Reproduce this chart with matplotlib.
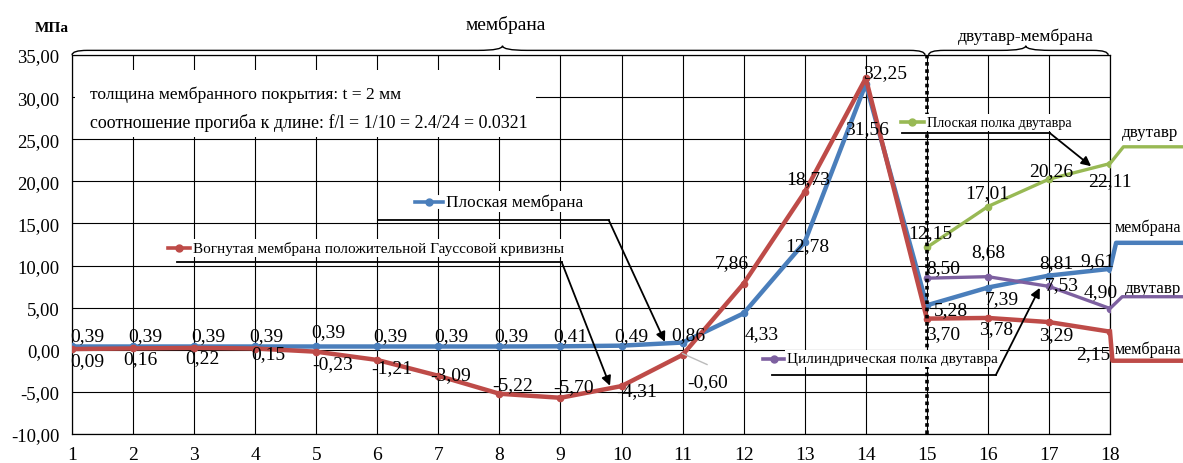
import matplotlib
matplotlib.use("Agg")
import matplotlib.pyplot as plt
from matplotlib.path import Path
from matplotlib.patches import PathPatch, Rectangle

plt.rcParams['font.family'] = ['Liberation Serif', 'DejaVu Serif']

# ---- data -------------------------------------------------------------
points = list(range(1, 19))
flat_membrane = [0.39, 0.39, 0.39, 0.39, 0.39, 0.39, 0.39, 0.39, 0.41, 0.49,
                 0.86, 4.33, 12.78, 31.56, 5.28, 7.39, 8.81, 9.61]
concave_membrane = [0.09, 0.16, 0.22, 0.15, -0.23, -1.21, -3.09, -5.22, -5.70,
                    -4.31, -0.60, 7.86, 18.73, 32.25, 3.70, 3.78, 3.29, 2.15]
beam_points = [15, 16, 17, 18]
flat_flange = [12.15, 17.01, 20.26, 22.11]
cyl_flange = [8.50, 8.68, 7.53, 4.90]

# levels of the continuation segments right of point 18
tail_flat_flange = 24.1
tail_flat_membrane = 12.7
tail_cyl_flange = 6.3
tail_concave_membrane = -1.3

y_ticks = [-10, -5, 0, 5, 10, 15, 20, 25, 30, 35]

name_flat = "Плоская мембрана"
name_concave = "Вогнутая мембрана положительной Гауссовой кривизны"
name_flat_flange = "Плоская полка двутавра"
name_cyl_flange = "Цилиндрическая полка двутавра"

# ---- styles -----------------------------------------------------------
BLUE = "#4A7EBB"
RED = "#BE4B48"
GREEN = "#98B954"
PURPLE = "#7D60A0"

# label offsets (pixels, dx, dy) for every point
off_flat = [(15, 11), (12, 11), (14, 11), (11, 11), (12, 15), (13, 11), (13, 11),
            (12, 11), (10, 11), (10, 10), (6, 8), (18, -20), (3, -3), (1, -45),
            (24, -4), (14, -11), (7, 13), (-13, 8)]
off_concave = [(15, -12), (7, -10), (8, -10), (13, -5), (16, -12), (14, -8),
               (12, 1), (13, 9), (13, 11), (15, -5), (25, -27), (-12, 21),
               (3, 13), (19, 6), (16, -15), (8, -11), (7, -13), (-17, -22)]
off_flat_flange = [(3, 15), (-1, 14), (2, 9), (0, -17)]
off_cyl_flange = [(16, 11), (0, 25), (13, 2), (-9, 17)]

fig = plt.figure(figsize=(11.83, 4.64), dpi=100)
ax = fig.add_axes([0.0609, 0.0625, 0.8774, 0.8168])
ax.set_xlim(1, 18)
ax.set_ylim(-10, 35)
ax.set_xticks(points)
ax.set_yticks(y_ticks)
ax.set_yticklabels([f"{v:.2f}".replace(".", ",") for v in y_ticks])
ax.tick_params(axis='y', length=0, pad=9, labelsize=13.5)
ax.tick_params(axis='x', length=0, pad=9, labelsize=14)
ax.grid(True, color='black', linewidth=0.8)
ax.set_axisbelow(True)
for s in ax.spines.values():
    s.set_color('black')
    s.set_linewidth(0.9)

fmt = lambda v: f"{v:.2f}".replace(".", ",")

# ---- series -----------------------------------------------------------
ax.plot(points, flat_membrane, color=BLUE, lw=3.2, marker='o', ms=4.5, zorder=4,
        solid_joinstyle='round')
ax.plot(points, concave_membrane, color=RED, lw=3.2, marker='o', ms=4.5, zorder=5,
        solid_joinstyle='round')
ax.plot(beam_points, flat_flange, color=GREEN, lw=2.4, marker='o', ms=4.5, zorder=4)
ax.plot(beam_points, cyl_flange, color=PURPLE, lw=2.4, marker='o', ms=4.5, zorder=4)

# continuation segments beyond the last point
ax.plot([18, 18.22, 19.4], [flat_flange[-1], tail_flat_flange, tail_flat_flange],
        color=GREEN, lw=2.4, clip_on=False, zorder=4)
ax.plot([18, 18.1, 19.4], [flat_membrane[-1], tail_flat_membrane, tail_flat_membrane],
        color=BLUE, lw=3.2, clip_on=False, zorder=4)
ax.plot([18, 18.2, 19.4], [cyl_flange[-1], tail_cyl_flange, tail_cyl_flange],
        color=PURPLE, lw=2.4, clip_on=False, zorder=4)
ax.plot([18, 18.04, 19.4], [concave_membrane[-1], tail_concave_membrane, tail_concave_membrane],
        color=RED, lw=3.2, clip_on=False, zorder=5)

ax.text(18.2, tail_flat_flange + 1.7, "двутавр", fontsize=12.2, va='center', ha='left', clip_on=False)
ax.text(18.08, tail_flat_membrane + 1.9, "мембрана", fontsize=11.6, va='center', ha='left', clip_on=False)
ax.text(18.24, tail_cyl_flange + 1.0, "двутавр", fontsize=12.2, va='center', ha='left', clip_on=False)
ax.text(18.08, tail_concave_membrane + 1.4, "мембрана", fontsize=11.6, va='center', ha='left', clip_on=False)

# ---- value labels -----------------------------------------------------
def label_series(xs, ys, offs):
    for x, y, (dx, dy) in zip(xs, ys, offs):
        ax.annotate(fmt(y), (x, y), xytext=(dx, dy), textcoords='offset pixels',
                    ha='center', va='center', fontsize=14, zorder=7,
                    annotation_clip=False)

label_series(points, flat_membrane, off_flat)
label_series(points, concave_membrane, off_concave)
label_series(beam_points, flat_flange, off_flat_flange)
label_series(beam_points, cyl_flange, off_cyl_flange)

# leader for the -0,60 label
ax.plot([11.0, 11.4], [-0.45, -1.75], color='#BBBBBB', lw=1.0, zorder=6)

# ---- boundary between zones ------------------------------------------
ax.axvline(15, color='black', lw=2.6, linestyle=(0, (1, 1)), zorder=6)

# ---- info box ---------------------------------------------------------
ax.add_patch(Rectangle((1.05, 25.3), 7.55, 7.9, facecolor='white', edgecolor='none', zorder=2))
ax.text(1.29, 30.4, "толщина мембранного покрытия: t = 2 мм", fontsize=12.6,
        va='center', ha='left', zorder=3)
ax.text(1.29, 27.0, "соотношение прогиба к длине: f/l = 1/10 = 2.4/24 = 0.0321",
        fontsize=12.9, va='center', ha='left', zorder=3)

# ---- callout legends --------------------------------------------------
def callout(mx0, mx1, my, text, size, color, ux0, ux1, uy, tip):
    ax.text(mx1 + 0.05, my, text, fontsize=size, va='center', ha='left', zorder=8,
            bbox=dict(facecolor='white', edgecolor='none', pad=1.5))
    ax.plot([mx0 - 0.04, mx1], [my, my], color='white', lw=10, zorder=7.5,
            solid_capstyle='butt')
    ax.plot([mx0, mx1], [my, my], color=color, lw=2.6, zorder=9)
    ax.plot([(mx0 + mx1) / 2], [my], marker='o', color=color, ms=5, zorder=9)
    ax.plot([ux0, ux1], [uy, uy], color='black', lw=1.3, zorder=8)
    ax.annotate('', xy=tip, xytext=(ux1, uy),
                arrowprops=dict(arrowstyle='-|>', color='black', lw=1.3,
                                mutation_scale=14, shrinkA=0, shrinkB=0),
                zorder=8)

callout(6.62, 7.08, 17.6, name_flat, 12.4, BLUE, 6.01, 9.79, 15.4, (10.71, 0.95))
callout(2.57, 2.93, 12.1, name_concave, 11.0, RED, 2.72, 9.02, 10.4, (9.81, -4.27))
callout(14.58, 14.95, 27.0, name_flat_flange, 10.2, GREEN, 14.59, 17.02, 25.7, (17.69, 21.8))
callout(12.32, 12.66, -1.07, name_cyl_flange, 10.9, PURPLE, 12.46, 16.13, -3.0, (16.85, 7.35))

# ---- zone braces ------------------------------------------------------
def brace(xa, xb, xc, base=35.0, flat=35.55, peak=36.1, e=0.25, d=0.4):
    verts = [(xa, base), (xa, flat), (xa + e, flat),
             (xc - d, flat), (xc, flat), (xc, peak),
             (xc, flat), (xc + d, flat),
             (xb - e, flat), (xb, flat), (xb, base)]
    codes = [Path.MOVETO, Path.CURVE3, Path.CURVE3,
             Path.LINETO, Path.CURVE3, Path.CURVE3,
             Path.CURVE3, Path.CURVE3,
             Path.LINETO, Path.CURVE3, Path.CURVE3]
    ax.add_patch(PathPatch(Path(verts, codes), facecolor='none', edgecolor='black',
                           lw=1.0, clip_on=False))

brace(1.0, 14.97, 8.05)
brace(15.03, 17.97, 16.62)
ax.text(8.1, 38.7, "мембрана", fontsize=14, ha='center', va='center', clip_on=False)
ax.text(16.62, 37.3, "двутавр-мембрана", fontsize=12.6, ha='center', va='center', clip_on=False)

fig.text(52 / 1183, 1 - 28 / 464, "МПа", fontsize=11, fontweight='bold',
         ha='center', va='center')

fig.savefig("out.png", dpi=100)
